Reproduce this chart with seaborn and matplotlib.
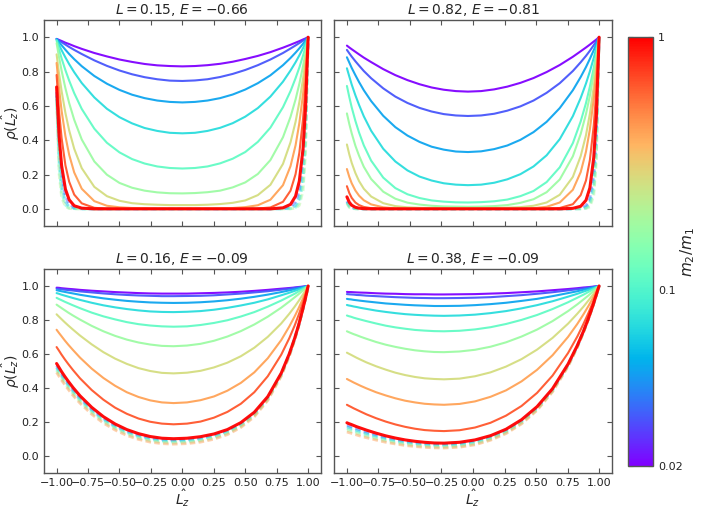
import numpy as np
import pandas as pd
import matplotlib
matplotlib.use("Agg")
import matplotlib.pyplot as plt
import seaborn as sns
from matplotlib.colors import LogNorm
from matplotlib.cm import ScalarMappable

# ---------------- data ----------------
# sample positions along L_z (denser near the edges and the minimum)
X_P1 = [-1.0, -0.98, -0.96, -0.93, -0.9, -0.86, -0.8, -0.7, -0.6, -0.5, -0.4, -0.3, -0.2, -0.1, 0.0,
        0.1, 0.2, 0.3, 0.4, 0.5, 0.6, 0.7, 0.8, 0.86, 0.9, 0.93, 0.96, 0.98, 1.0]
X_P2 = [-1.0, -0.981, -0.962, -0.933, -0.904, -0.866, -0.808, -0.712, -0.616, -0.52, -0.424, -0.328, -0.232, -0.136, -0.04,
        0.064, 0.168, 0.272, 0.376, 0.48, 0.584, 0.688, 0.792, 0.854, 0.896, 0.927, 0.958, 0.979, 1.0]
X_P3 = [-1.0, -0.981, -0.963, -0.935, -0.907, -0.87, -0.814, -0.721, -0.628, -0.535, -0.442, -0.349, -0.256, -0.163, -0.07,
        0.037, 0.144, 0.251, 0.358, 0.465, 0.572, 0.679, 0.786, 0.85, 0.893, 0.925, 0.957, 0.979, 1.0]
X_P4 = [-1.0, -0.985, -0.969, -0.946, -0.923, -0.892, -0.846, -0.769, -0.692, -0.615, -0.538, -0.461, -0.384, -0.307, -0.23,
        -0.107, 0.016, 0.139, 0.262, 0.385, 0.508, 0.631, 0.754, 0.828, 0.877, 0.914, 0.951, 0.975, 1.0]

MASS_RATIOS = [0.02, 0.031, 0.048, 0.074, 0.114, 0.176, 0.272, 0.42, 0.648, 1.0]
DASHED_RATIOS_TOP = [0.03, 0.055, 0.1, 0.2]
DASHED_RATIOS_BOTTOM = [0.03, 0.055, 0.1, 0.2, 0.45]

TITLES = [r"$L=0.15$, $E=-0.66$", r"$L=0.82$, $E=-0.81$",
          r"$L=0.16$, $E=-0.09$", r"$L=0.38$, $E=-0.09$"]

SOLID_P1 = [
    [0.99, 0.984, 0.978, 0.968, 0.960, 0.948, 0.932, 0.908, 0.888, 0.87, 0.856, 0.844, 0.836, 0.832, 0.83,
     0.832, 0.837, 0.845, 0.857, 0.873, 0.891, 0.913, 0.939, 0.956, 0.968, 0.977, 0.987, 0.993, 1.0],
    [0.99, 0.980, 0.971, 0.957, 0.943, 0.926, 0.902, 0.865, 0.833, 0.806, 0.784, 0.767, 0.755, 0.747, 0.745,
     0.748, 0.755, 0.768, 0.786, 0.809, 0.837, 0.870, 0.908, 0.934, 0.952, 0.966, 0.980, 0.990, 1.0],
    [0.99, 0.971, 0.953, 0.927, 0.902, 0.872, 0.831, 0.774, 0.729, 0.693, 0.665, 0.645, 0.631, 0.623, 0.62,
     0.623, 0.631, 0.645, 0.666, 0.695, 0.732, 0.778, 0.837, 0.879, 0.910, 0.935, 0.962, 0.981, 1.0],
    [0.985, 0.954, 0.924, 0.882, 0.843, 0.796, 0.733, 0.649, 0.583, 0.534, 0.498, 0.471, 0.454, 0.443, 0.44,
     0.443, 0.454, 0.472, 0.499, 0.537, 0.587, 0.654, 0.741, 0.806, 0.854, 0.894, 0.937, 0.968, 1.0],
    [0.98, 0.927, 0.876, 0.808, 0.747, 0.674, 0.582, 0.467, 0.385, 0.329, 0.290, 0.264, 0.247, 0.238, 0.235,
     0.238, 0.247, 0.265, 0.292, 0.331, 0.390, 0.473, 0.592, 0.686, 0.761, 0.823, 0.894, 0.946, 1.0],
    [0.965, 0.881, 0.804, 0.703, 0.616, 0.519, 0.404, 0.276, 0.199, 0.151, 0.123, 0.106, 0.096, 0.091, 0.09,
     0.092, 0.097, 0.106, 0.125, 0.154, 0.203, 0.284, 0.417, 0.536, 0.637, 0.728, 0.833, 0.913, 1.0],
    [0.90, 0.785, 0.685, 0.559, 0.457, 0.350, 0.237, 0.128, 0.074, 0.047, 0.033, 0.027, 0.024, 0.022, 0.022,
     0.022, 0.024, 0.028, 0.035, 0.049, 0.080, 0.140, 0.262, 0.388, 0.507, 0.621, 0.760, 0.872, 1.0],
    [0.85, 0.697, 0.570, 0.424, 0.315, 0.212, 0.117, 0.045, 0.018, 0.009, 0.005, 0.004, 0.003, 0.003, 0.003,
     0.003, 0.003, 0.004, 0.005, 0.010, 0.021, 0.053, 0.138, 0.249, 0.370, 0.499, 0.671, 0.820, 1.0],
    [0.78, 0.566, 0.411, 0.254, 0.158, 0.083, 0.032, 0.006, 0.001, 0.0, 0.0, 0.0, 0.0, 0.0, 0.0,
     0.0, 0.0, 0.0, 0.0, 0.0, 0.002, 0.008, 0.041, 0.106, 0.202, 0.326, 0.527, 0.726, 1.0],
    [0.71, 0.422, 0.251, 0.115, 0.053, 0.018, 0.004, 0.0, 0.0, 0.0, 0.0, 0.0, 0.0, 0.0, 0.0,
     0.0, 0.0, 0.0, 0.0, 0.0, 0.0, 0.0, 0.006, 0.026, 0.074, 0.162, 0.353, 0.595, 1.0],
]
DASHED_P1 = [
    [0.68, 0.358, 0.189, 0.072, 0.028, 0.007, 0.001, 0.0, 0.0, 0.0, 0.0, 0.0, 0.0, 0.0, 0.0,
     0.0, 0.0, 0.0, 0.0, 0.0, 0.0, 0.0, 0.002, 0.011, 0.041, 0.106, 0.278, 0.527, 1.0],
    [0.66, 0.296, 0.133, 0.040, 0.012, 0.003, 0.0, 0.0, 0.0, 0.0, 0.0, 0.0, 0.0, 0.0, 0.0,
     0.0, 0.0, 0.0, 0.0, 0.0, 0.0, 0.0, 0.0, 0.004, 0.018, 0.061, 0.202, 0.449, 1.0],
    [0.64, 0.245, 0.094, 0.022, 0.005, 0.001, 0.0, 0.0, 0.0, 0.0, 0.0, 0.0, 0.0, 0.0, 0.0,
     0.0, 0.0, 0.0, 0.0, 0.0, 0.0, 0.0, 0.0, 0.001, 0.008, 0.035, 0.147, 0.383, 1.0],
    [0.62, 0.202, 0.066, 0.012, 0.002, 0.0, 0.0, 0.0, 0.0, 0.0, 0.0, 0.0, 0.0, 0.0, 0.0,
     0.0, 0.0, 0.0, 0.0, 0.0, 0.0, 0.0, 0.0, 0.0, 0.004, 0.020, 0.106, 0.326, 1.0],
]

SOLID_P2 = [
    [0.951, 0.940, 0.930, 0.915, 0.900, 0.881, 0.855, 0.814, 0.779, 0.750, 0.726, 0.707, 0.694, 0.686, 0.683,
     0.686, 0.696, 0.712, 0.734, 0.762, 0.797, 0.838, 0.886, 0.918, 0.940, 0.957, 0.975, 0.987, 1.0],
    [0.926, 0.906, 0.887, 0.860, 0.835, 0.803, 0.761, 0.702, 0.654, 0.617, 0.588, 0.567, 0.552, 0.544, 0.541,
     0.544, 0.554, 0.572, 0.597, 0.631, 0.676, 0.732, 0.803, 0.854, 0.891, 0.921, 0.954, 0.977, 1.0],
    [0.883, 0.852, 0.821, 0.779, 0.739, 0.691, 0.628, 0.542, 0.476, 0.427, 0.390, 0.362, 0.345, 0.334, 0.331,
     0.335, 0.348, 0.369, 0.402, 0.447, 0.507, 0.587, 0.691, 0.768, 0.826, 0.874, 0.925, 0.962, 1.0],
    [0.819, 0.771, 0.724, 0.662, 0.606, 0.539, 0.455, 0.350, 0.276, 0.224, 0.188, 0.165, 0.149, 0.141, 0.138,
     0.141, 0.152, 0.172, 0.202, 0.247, 0.312, 0.406, 0.540, 0.646, 0.730, 0.801, 0.880, 0.939, 1.0],
    [0.716, 0.651, 0.591, 0.513, 0.445, 0.370, 0.281, 0.182, 0.121, 0.085, 0.063, 0.049, 0.042, 0.038, 0.037,
     0.039, 0.044, 0.054, 0.074, 0.104, 0.156, 0.242, 0.383, 0.509, 0.616, 0.712, 0.823, 0.908, 1.0],
    [0.556, 0.494, 0.440, 0.368, 0.310, 0.245, 0.174, 0.100, 0.059, 0.036, 0.025, 0.018, 0.014, 0.013, 0.012,
     0.013, 0.016, 0.022, 0.035, 0.056, 0.097, 0.171, 0.306, 0.436, 0.552, 0.659, 0.789, 0.887, 1.0],
    [0.375, 0.317, 0.268, 0.209, 0.162, 0.117, 0.072, 0.033, 0.016, 0.009, 0.006, 0.005, 0.004, 0.004, 0.004,
     0.004, 0.005, 0.007, 0.010, 0.018, 0.037, 0.082, 0.186, 0.307, 0.429, 0.554, 0.713, 0.845, 1.0],
    [0.232, 0.186, 0.149, 0.107, 0.077, 0.050, 0.026, 0.009, 0.003, 0.001, 0.0, 0.0, 0.0, 0.0, 0.0,
     0.0, 0.0, 0.0, 0.001, 0.004, 0.012, 0.037, 0.111, 0.214, 0.333, 0.463, 0.644, 0.803, 1.0],
    [0.132, 0.092, 0.064, 0.037, 0.022, 0.011, 0.004, 0.001, 0.0, 0.0, 0.0, 0.0, 0.0, 0.0, 0.0,
     0.0, 0.0, 0.0, 0.0, 0.0, 0.001, 0.005, 0.027, 0.080, 0.165, 0.284, 0.487, 0.698, 1.0],
    [0.07, 0.038, 0.021, 0.009, 0.004, 0.001, 0.0, 0.0, 0.0, 0.0, 0.0, 0.0, 0.0, 0.0, 0.0,
     0.0, 0.0, 0.0, 0.0, 0.0, 0.0, 0.0, 0.003, 0.015, 0.050, 0.122, 0.301, 0.549, 1.0],
]
DASHED_P2 = [
    [0.045, 0.020, 0.009, 0.003, 0.001, 0.0, 0.0, 0.0, 0.0, 0.0, 0.0, 0.0, 0.0, 0.0, 0.0,
     0.0, 0.0, 0.0, 0.0, 0.0, 0.0, 0.0, 0.0, 0.004, 0.018, 0.061, 0.202, 0.449, 1.0],
    [0.04, 0.015, 0.006, 0.001, 0.0, 0.0, 0.0, 0.0, 0.0, 0.0, 0.0, 0.0, 0.0, 0.0, 0.0,
     0.0, 0.0, 0.0, 0.0, 0.0, 0.0, 0.0, 0.0, 0.001, 0.008, 0.035, 0.147, 0.383, 1.0],
    [0.035, 0.011, 0.004, 0.001, 0.0, 0.0, 0.0, 0.0, 0.0, 0.0, 0.0, 0.0, 0.0, 0.0, 0.0,
     0.0, 0.0, 0.0, 0.0, 0.0, 0.0, 0.0, 0.0, 0.0, 0.004, 0.020, 0.106, 0.326, 1.0],
    [0.03, 0.008, 0.002, 0.0, 0.0, 0.0, 0.0, 0.0, 0.0, 0.0, 0.0, 0.0, 0.0, 0.0, 0.0,
     0.0, 0.0, 0.0, 0.0, 0.0, 0.0, 0.0, 0.0, 0.0, 0.002, 0.011, 0.077, 0.278, 1.0],
]

SOLID_P3 = [
    [0.990, 0.989, 0.987, 0.985, 0.983, 0.981, 0.977, 0.972, 0.968, 0.964, 0.961, 0.958, 0.956, 0.955, 0.955,
     0.955, 0.957, 0.959, 0.962, 0.966, 0.971, 0.977, 0.984, 0.988, 0.991, 0.994, 0.996, 0.998, 1.0],
    [0.984, 0.982, 0.981, 0.978, 0.976, 0.973, 0.968, 0.962, 0.956, 0.951, 0.947, 0.944, 0.942, 0.940, 0.94,
     0.941, 0.942, 0.945, 0.950, 0.955, 0.962, 0.969, 0.978, 0.984, 0.989, 0.992, 0.995, 0.998, 1.0],
    [0.975, 0.972, 0.969, 0.965, 0.961, 0.956, 0.948, 0.937, 0.927, 0.919, 0.912, 0.907, 0.903, 0.901, 0.90,
     0.901, 0.904, 0.909, 0.916, 0.925, 0.936, 0.949, 0.964, 0.974, 0.981, 0.987, 0.992, 0.996, 1.0],
    [0.958, 0.954, 0.949, 0.943, 0.937, 0.929, 0.918, 0.901, 0.886, 0.874, 0.864, 0.856, 0.850, 0.847, 0.846,
     0.848, 0.852, 0.860, 0.871, 0.885, 0.901, 0.921, 0.945, 0.960, 0.971, 0.979, 0.988, 0.994, 1.0],
    [0.930, 0.923, 0.917, 0.907, 0.898, 0.886, 0.869, 0.843, 0.821, 0.803, 0.787, 0.775, 0.767, 0.762, 0.76,
     0.762, 0.770, 0.782, 0.798, 0.820, 0.846, 0.878, 0.914, 0.938, 0.954, 0.968, 0.981, 0.990, 1.0],
    [0.890, 0.880, 0.871, 0.857, 0.843, 0.826, 0.802, 0.765, 0.733, 0.706, 0.684, 0.667, 0.655, 0.647, 0.645,
     0.649, 0.659, 0.677, 0.702, 0.734, 0.773, 0.819, 0.872, 0.908, 0.933, 0.952, 0.972, 0.986, 1.0],
    [0.833, 0.819, 0.806, 0.786, 0.767, 0.743, 0.708, 0.656, 0.610, 0.572, 0.541, 0.516, 0.499, 0.488, 0.485,
     0.489, 0.500, 0.520, 0.548, 0.586, 0.636, 0.700, 0.779, 0.836, 0.878, 0.912, 0.948, 0.974, 1.0],
    [0.742, 0.723, 0.706, 0.679, 0.654, 0.623, 0.578, 0.513, 0.458, 0.412, 0.374, 0.346, 0.326, 0.314, 0.31,
     0.314, 0.327, 0.349, 0.383, 0.429, 0.491, 0.574, 0.681, 0.761, 0.821, 0.870, 0.923, 0.961, 1.0],
    [0.640, 0.619, 0.598, 0.568, 0.540, 0.505, 0.456, 0.387, 0.330, 0.283, 0.247, 0.219, 0.200, 0.189, 0.185,
     0.189, 0.201, 0.224, 0.258, 0.306, 0.374, 0.468, 0.595, 0.692, 0.767, 0.830, 0.898, 0.948, 1.0],
    [0.543, 0.520, 0.498, 0.467, 0.438, 0.402, 0.353, 0.285, 0.230, 0.187, 0.154, 0.130, 0.113, 0.103, 0.10,
     0.103, 0.112, 0.128, 0.154, 0.195, 0.256, 0.348, 0.486, 0.600, 0.692, 0.771, 0.862, 0.928, 1.0],
]
DASHED_P3 = [
    [0.530, 0.508, 0.486, 0.455, 0.426, 0.391, 0.343, 0.275, 0.221, 0.179, 0.146, 0.122, 0.106, 0.096, 0.093,
     0.096, 0.105, 0.121, 0.147, 0.188, 0.250, 0.343, 0.482, 0.596, 0.690, 0.770, 0.861, 0.927, 1.0],
    [0.520, 0.498, 0.476, 0.446, 0.417, 0.382, 0.334, 0.268, 0.214, 0.172, 0.140, 0.116, 0.100, 0.090, 0.087,
     0.090, 0.099, 0.115, 0.142, 0.183, 0.245, 0.339, 0.479, 0.594, 0.688, 0.768, 0.860, 0.927, 1.0],
    [0.510, 0.488, 0.467, 0.437, 0.408, 0.373, 0.326, 0.260, 0.207, 0.166, 0.133, 0.110, 0.093, 0.084, 0.081,
     0.084, 0.093, 0.109, 0.136, 0.177, 0.240, 0.335, 0.475, 0.591, 0.686, 0.767, 0.859, 0.926, 1.0],
    [0.500, 0.478, 0.457, 0.427, 0.399, 0.364, 0.318, 0.252, 0.200, 0.159, 0.127, 0.103, 0.087, 0.078, 0.075,
     0.078, 0.087, 0.104, 0.131, 0.172, 0.235, 0.330, 0.472, 0.588, 0.684, 0.765, 0.858, 0.926, 1.0],
    [0.490, 0.468, 0.447, 0.418, 0.390, 0.355, 0.309, 0.244, 0.192, 0.151, 0.119, 0.096, 0.080, 0.071, 0.068,
     0.071, 0.080, 0.097, 0.124, 0.166, 0.229, 0.325, 0.468, 0.585, 0.681, 0.763, 0.857, 0.925, 1.0],
]

SOLID_P4 = [
    [0.965, 0.964, 0.964, 0.963, 0.962, 0.961, 0.960, 0.957, 0.955, 0.954, 0.952, 0.951, 0.951, 0.950, 0.95,
     0.951, 0.952, 0.955, 0.958, 0.963, 0.968, 0.975, 0.982, 0.987, 0.991, 0.993, 0.996, 0.998, 1.0],
    [0.952, 0.951, 0.950, 0.949, 0.947, 0.946, 0.943, 0.940, 0.937, 0.934, 0.932, 0.930, 0.929, 0.928, 0.928,
     0.929, 0.931, 0.934, 0.940, 0.946, 0.954, 0.963, 0.974, 0.981, 0.986, 0.990, 0.994, 0.997, 1.0],
    [0.924, 0.922, 0.921, 0.918, 0.916, 0.913, 0.909, 0.903, 0.897, 0.893, 0.889, 0.886, 0.884, 0.882, 0.882,
     0.883, 0.887, 0.893, 0.901, 0.912, 0.924, 0.940, 0.958, 0.969, 0.978, 0.984, 0.991, 0.995, 1.0],
    [0.888, 0.885, 0.883, 0.879, 0.876, 0.871, 0.865, 0.855, 0.847, 0.840, 0.834, 0.830, 0.827, 0.825, 0.824,
     0.826, 0.831, 0.840, 0.852, 0.868, 0.887, 0.910, 0.937, 0.954, 0.967, 0.976, 0.986, 0.993, 1.0],
    [0.826, 0.822, 0.819, 0.813, 0.808, 0.802, 0.793, 0.779, 0.766, 0.756, 0.748, 0.741, 0.737, 0.734, 0.733,
     0.736, 0.744, 0.757, 0.776, 0.800, 0.829, 0.864, 0.904, 0.931, 0.949, 0.964, 0.979, 0.989, 1.0],
    [0.733, 0.728, 0.723, 0.716, 0.710, 0.701, 0.689, 0.670, 0.654, 0.641, 0.630, 0.621, 0.615, 0.611, 0.61,
     0.614, 0.624, 0.642, 0.668, 0.702, 0.743, 0.793, 0.852, 0.892, 0.921, 0.943, 0.967, 0.983, 1.0],
    [0.607, 0.601, 0.595, 0.586, 0.577, 0.566, 0.550, 0.527, 0.507, 0.489, 0.475, 0.464, 0.456, 0.452, 0.45,
     0.454, 0.468, 0.491, 0.525, 0.569, 0.625, 0.694, 0.778, 0.837, 0.879, 0.913, 0.949, 0.974, 1.0],
    [0.452, 0.446, 0.440, 0.431, 0.423, 0.412, 0.397, 0.374, 0.355, 0.338, 0.324, 0.314, 0.306, 0.302, 0.30,
     0.305, 0.320, 0.347, 0.385, 0.438, 0.506, 0.592, 0.700, 0.777, 0.834, 0.880, 0.929, 0.964, 1.0],
    [0.300, 0.294, 0.288, 0.279, 0.271, 0.260, 0.244, 0.221, 0.201, 0.184, 0.170, 0.159, 0.151, 0.147, 0.145,
     0.150, 0.166, 0.194, 0.236, 0.293, 0.370, 0.472, 0.605, 0.703, 0.778, 0.838, 0.904, 0.951, 1.0],
    [0.194, 0.189, 0.185, 0.178, 0.171, 0.163, 0.151, 0.133, 0.117, 0.104, 0.093, 0.085, 0.079, 0.075, 0.074,
     0.079, 0.093, 0.118, 0.156, 0.212, 0.289, 0.395, 0.540, 0.650, 0.735, 0.806, 0.884, 0.941, 1.0],
]
DASHED_P4 = [
    [0.180, 0.176, 0.171, 0.165, 0.159, 0.151, 0.140, 0.123, 0.108, 0.096, 0.086, 0.078, 0.072, 0.069, 0.068,
     0.073, 0.087, 0.113, 0.151, 0.207, 0.284, 0.391, 0.537, 0.648, 0.733, 0.805, 0.884, 0.940, 1.0],
    [0.170, 0.166, 0.162, 0.155, 0.149, 0.142, 0.131, 0.115, 0.101, 0.089, 0.079, 0.072, 0.066, 0.063, 0.062,
     0.067, 0.081, 0.107, 0.145, 0.202, 0.280, 0.387, 0.534, 0.645, 0.732, 0.804, 0.883, 0.940, 1.0],
    [0.160, 0.156, 0.152, 0.146, 0.140, 0.133, 0.123, 0.107, 0.093, 0.082, 0.073, 0.065, 0.060, 0.057, 0.056,
     0.061, 0.075, 0.101, 0.140, 0.197, 0.275, 0.384, 0.531, 0.643, 0.730, 0.803, 0.882, 0.940, 1.0],
    [0.150, 0.146, 0.142, 0.137, 0.131, 0.124, 0.114, 0.099, 0.086, 0.075, 0.066, 0.059, 0.054, 0.051, 0.050,
     0.055, 0.069, 0.096, 0.135, 0.192, 0.270, 0.380, 0.528, 0.641, 0.728, 0.801, 0.881, 0.939, 1.0],
    [0.140, 0.136, 0.133, 0.127, 0.122, 0.115, 0.106, 0.092, 0.079, 0.069, 0.060, 0.054, 0.049, 0.046, 0.045,
     0.050, 0.064, 0.091, 0.130, 0.187, 0.267, 0.376, 0.525, 0.639, 0.727, 0.800, 0.881, 0.939, 1.0],
]

X_TICKS = [-1.0, -0.75, -0.5, -0.25, 0.0, 0.25, 0.5, 0.75, 1.0]
Y_TICKS = [0.0, 0.2, 0.4, 0.6, 0.8, 1.0]
CBAR_TICKS = [0.02, 0.1, 1.0]
CBAR_TICKLABELS = ["0.02", "0.1", "1"]

# ---------------- style ----------------
sns.set_style("white")
plt.rcParams.update({
    "font.family": ["DejaVu Sans"],
    "axes.edgecolor": "#555555",
    "axes.linewidth": 1.0,
    "xtick.direction": "in", "ytick.direction": "in",
    "xtick.top": True, "ytick.right": True,
    "xtick.bottom": True, "ytick.left": True,
    "xtick.color": "#555555", "ytick.color": "#555555",
    "xtick.labelcolor": "#222222", "ytick.labelcolor": "#222222",
    "xtick.labelsize": 8, "ytick.labelsize": 8,
    "xtick.major.size": 3.5, "ytick.major.size": 3.5,
})

cmap = plt.get_cmap("rainbow")
norm = LogNorm(vmin=0.02, vmax=1.0)

fig = plt.figure(figsize=(7.01, 5.11), dpi=100)
positions = [
    [0.0628, 0.5577, 0.3947, 0.4031],
    [0.4769, 0.5577, 0.3957, 0.4031],
    [0.0628, 0.0750, 0.3947, 0.3986],
    [0.4769, 0.0750, 0.3957, 0.3986],
]
panels = [
    (X_P1, SOLID_P1, DASHED_P1, DASHED_RATIOS_TOP),
    (X_P2, SOLID_P2, DASHED_P2, DASHED_RATIOS_TOP),
    (X_P3, SOLID_P3, DASHED_P3, DASHED_RATIOS_BOTTOM),
    (X_P4, SOLID_P4, DASHED_P4, DASHED_RATIOS_BOTTOM),
]

for i, (pos, (xs, solid, dashed, dratios), title) in enumerate(zip(positions, panels, TITLES)):
    ax = fig.add_axes(pos)
    for vals, m in zip(dashed, dratios):
        n = min(len(xs), len(vals))
        sns.lineplot(x=xs[:n], y=vals[:n], ax=ax, color=cmap(norm(m)), lw=2.0,
                     alpha=0.45, linestyle=(0, (2, 1.2)), sort=False, estimator=None)
    for j, (vals, m) in enumerate(zip(solid, MASS_RATIOS)):
        n = min(len(xs), len(vals))
        lw = 2.2 if j == len(solid) - 1 else 1.5
        sns.lineplot(x=xs[:n], y=vals[:n], ax=ax, color=cmap(norm(m)), lw=lw,
                     alpha=0.95, sort=False, estimator=None)
    ax.set_xlim(-1.1, 1.1)
    ax.set_ylim(-0.1, 1.1)
    ax.set_xticks(X_TICKS)
    ax.set_yticks(Y_TICKS)
    ax.set_title(title, fontsize=10, pad=4)
    if i < 2:
        ax.tick_params(labelbottom=False)
        ax.set_xlabel("")
    else:
        ax.set_xlabel(r"$\hat{L_z}$", fontsize=10, labelpad=0)
    if i % 2 == 1:
        ax.tick_params(labelleft=False)
        ax.set_ylabel("")
    else:
        ax.set_ylabel(r"$\rho(\hat{L_z})$", fontsize=10, labelpad=-0.5)

cax = fig.add_axes([0.8963, 0.0881, 0.0357, 0.839])
sm = ScalarMappable(norm=norm, cmap=cmap)
cb = fig.colorbar(sm, cax=cax)
cb.set_ticks(CBAR_TICKS)
cb.set_ticklabels(CBAR_TICKLABELS)
cb.outline.set_edgecolor("#555555")
cax.tick_params(which="both", direction="in", right=True, left=True, labelsize=8,
                colors="#555555", labelcolor="#222222")
cb.set_label(r"$m_2/m_1$", fontsize=11, labelpad=-3)

fig.savefig("out.png", dpi=100)
